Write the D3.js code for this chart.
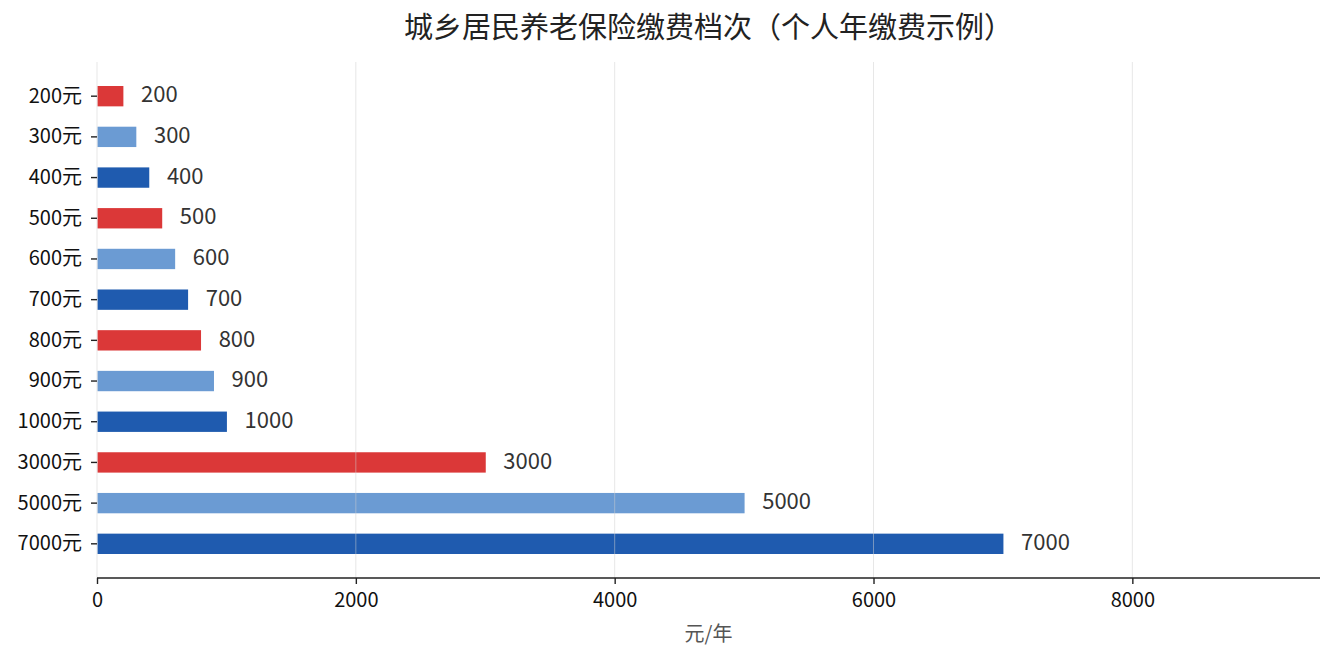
<!DOCTYPE html>
<html>
<head>
  <meta charset="utf-8">
  <script src="https://d3js.org/d3.v7.min.js"></script>
  <style>
    body { margin: 0; background: #fff; }
    text { font-family: "Noto Sans CJK SC", "Noto Sans", sans-serif; }
  </style>
</head>
<body>
<script>
  // chart data
  var categories = ["200元", "300元", "400元", "500元", "600元", "700元", "800元", "900元", "1000元", "3000元", "5000元", "7000元"];
  var values = [200, 300, 400, 500, 600, 700, 800, 900, 1000, 3000, 5000, 7000];
  var palette = ["#db3838", "#6b9bd3", "#1f5baf"];
  var xTicks = [0, 2000, 4000, 6000, 8000];

  var W = 1335, H = 660;
  var mLeft = 97, mRight = 1320, mTop = 62, mBottom = 578;

  var svg = d3.select("body").append("svg")
      .attr("width", W)
      .attr("height", H);

  var x = d3.scaleLinear()
      .domain([0, d3.max(values) * 1.35])
      .range([mLeft, mRight]);

  var y = d3.scaleBand()
      .domain(categories)
      .range([mTop, mBottom])
      .paddingInner(0.5)
      .paddingOuter(0.59);

  // bars
  svg.append("g").selectAll("rect")
      .data(values)
      .enter().append("rect")
      .attr("x", x(0) + 0.5)
      .attr("y", function(d, i) { return y(categories[i]); })
      .attr("width", function(d) { return x(d) - x(0); })
      .attr("height", y.bandwidth())
      .attr("fill", function(d, i) { return palette[i % 3]; });

  // grid on top of bars
  svg.append("g").selectAll("line")
      .data(xTicks)
      .enter().append("line")
      .attr("x1", function(d) { return x(d); })
      .attr("x2", function(d) { return x(d); })
      .attr("y1", mTop)
      .attr("y2", mBottom)
      .attr("stroke", "#cfcfcf")
      .attr("stroke-opacity", 0.5)
      .attr("stroke-width", 1);

  // value labels
  var offset = d3.max(values) * 0.02;
  svg.append("g").selectAll("text")
      .data(values)
      .enter().append("text")
      .attr("x", function(d) { return x(d + offset); })
      .attr("y", function(d, i) { return y(categories[i]) + y.bandwidth() / 2 - 1.5; })
      .attr("dy", "0.35em")
      .attr("font-size", 22)
      .attr("fill", "#333")
      .text(function(d) { return d; });

  // x axis
  var xAxis = svg.append("g")
      .attr("transform", "translate(0," + mBottom + ")")
      .call(d3.axisBottom(x).tickValues(xTicks).tickSize(6).tickPadding(9).tickFormat(d3.format("d")));
  xAxis.select(".domain").attr("stroke", "#222").attr("stroke-width", 1.6)
      .attr("d", "M" + mLeft + ",0H" + mRight);
  xAxis.selectAll(".tick line").attr("stroke", "#222").attr("stroke-width", 1.4);
  xAxis.selectAll(".tick text").attr("font-size", 20).attr("fill", "#111")
      .style("font-family", '"Noto Sans CJK SC", sans-serif');

  // y axis
  var yAxis = svg.append("g")
      .attr("transform", "translate(" + mLeft + ",0)")
      .call(d3.axisLeft(y).tickSize(6).tickPadding(9));
  yAxis.select(".domain").remove();
  yAxis.selectAll(".tick line").attr("stroke", "#222").attr("stroke-width", 1.4);
  yAxis.selectAll(".tick text").attr("font-size", 20).attr("fill", "#111")
      .style("font-family", '"Noto Sans CJK SC", sans-serif');

  // title
  svg.append("text")
      .attr("x", (mLeft + mRight) / 2)
      .attr("y", 38)
      .attr("text-anchor", "middle")
      .attr("font-size", 29)
      .attr("fill", "#222")
      .text("城乡居民养老保险缴费档次（个人年缴费示例）");

  // x label
  svg.append("text")
      .attr("x", (mLeft + mRight) / 2)
      .attr("y", 641)
      .attr("text-anchor", "middle")
      .attr("font-size", 20)
      .attr("fill", "#555")
      .text("元/年");
</script>
</body>
</html>
